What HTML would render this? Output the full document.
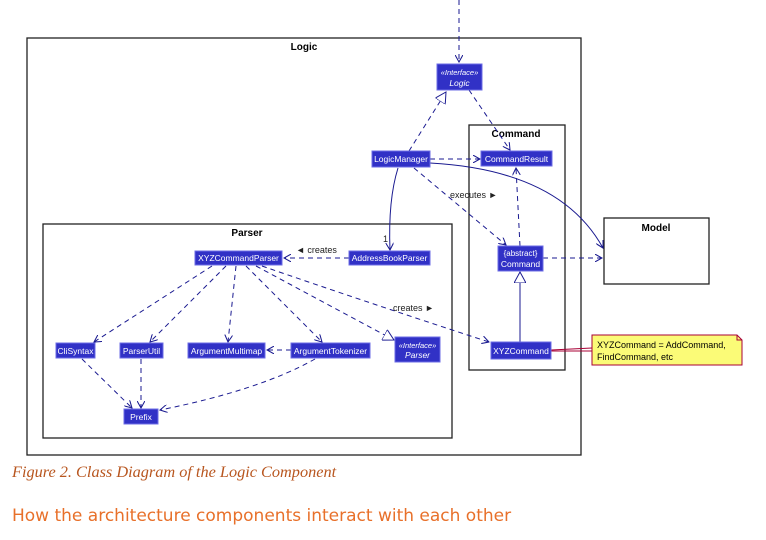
<!DOCTYPE html>
<html><head><meta charset="utf-8"><style>
html,body{margin:0;padding:0;background:#fff;width:766px;height:540px;overflow:hidden}
svg{position:absolute;left:0;top:0}
.cap{position:absolute;left:12px;top:462px;font-family:"Liberation Serif",serif;font-style:italic;font-size:16.3px;color:#b8561f;white-space:nowrap}
.h{position:absolute;left:12px;top:506px;font-family:"DejaVu Sans","Liberation Sans",sans-serif;font-size:17px;color:#e8702a;white-space:nowrap}
</style></head><body>
<svg width="766" height="540" viewBox="0 0 766 540" font-family="Liberation Sans, sans-serif">
<defs>
<marker id="a" viewBox="0 0 10 10" refX="9" refY="5" markerWidth="8" markerHeight="8" orient="auto"><path d="M0,0 L10,5 L0,10 L4,5 Z" fill="#1a1a90"/></marker>
<marker id="o" viewBox="0 0 10 10" refX="9" refY="5" markerWidth="8" markerHeight="8" orient="auto"><path d="M0,0 L9,5 L0,10" fill="none" stroke="#1a1a90" stroke-width="1.3"/></marker>
<marker id="t" viewBox="0 0 12 12" refX="11" refY="6" markerWidth="12" markerHeight="12" orient="auto" markerUnits="userSpaceOnUse"><path d="M0,0 L11,6 L0,12 Z" fill="#fff" stroke="#1a1a90"/></marker>
</defs>
<g fill="none" stroke="#222" stroke-width="1.3">
<rect x="27" y="38" width="554" height="417"/>
<rect x="469" y="125" width="96" height="245"/>
<rect x="43" y="224" width="409" height="214"/>
<rect x="604" y="218" width="105" height="66"/>
</g>
<g font-weight="bold" font-size="10" text-anchor="middle" fill="#000">
<text x="304" y="50">Logic</text><text x="516" y="137">Command</text><text x="247" y="236">Parser</text><text x="656" y="231">Model</text>
</g>
<path d="M592,335 H737 L742,340 V365 H592 Z" fill="#fbfb77" stroke="#a80036"/>
<path d="M737,335 V340 H742" fill="none" stroke="#a80036"/>
<text x="597" y="348" font-size="9">XYZCommand = AddCommand,</text>
<text x="597" y="360" font-size="9">FindCommand, etc</text>
<path d="M551,350 L592,348 M551,351 L592,351" stroke="#a80036" stroke-width="1"/>
<g stroke="#1a1a90" stroke-width="1" fill="none">
<g stroke-dasharray="5,4">
<path d="M459,0 V62" marker-end="url(#o)"/>
<path d="M409,151 L446,92" marker-end="url(#t)"/>
<path d="M469,90 L510,150" marker-end="url(#o)"/>
<path d="M430,159 L480,159" marker-end="url(#o)"/>
<path d="M414,168 L506,245" marker-end="url(#o)"/>
<path d="M520,246 L516,168" marker-end="url(#o)"/>
<path d="M543,258 L602,258" marker-end="url(#o)"/>
<path d="M349,258 L284,258" marker-end="url(#o)"/>
<path d="M212,266 L94,342" marker-end="url(#o)"/>
<path d="M226,266 L150,342" marker-end="url(#o)"/>
<path d="M236,266 L228,342" marker-end="url(#o)"/>
<path d="M246,266 L322,342" marker-end="url(#o)"/>
<path d="M256,266 L394,340" marker-end="url(#t)"/>
<path d="M262,266 Q360,300 489,342" marker-end="url(#o)"/>
<path d="M291,350 L267,350" marker-end="url(#o)"/>
<path d="M82,359 L132,408" marker-end="url(#o)"/>
<path d="M141,359 L141,408" marker-end="url(#o)"/>
<path d="M315,359 Q260,390 160,410" marker-end="url(#o)"/>
</g>
<path d="M398,168 Q388,200 390,250" marker-end="url(#o)"/>
<path d="M430,163 Q560,170 603,248" marker-end="url(#o)"/>
<path d="M520,342 L520,272" marker-end="url(#t)"/>
</g>
<g font-size="9" fill="#222">
<text x="450" y="198">executes ►</text>
<text x="296" y="253">◄ creates</text>
<text x="393" y="311">creates ►</text>
<text x="383" y="242">1</text>
</g>
<g fill="#3131c6" stroke="#6c6ce6" stroke-width="1">
<rect x="437" y="64" width="45" height="26"/>
<rect x="372" y="151" width="58" height="16"/>
<rect x="481" y="151" width="71" height="15"/>
<rect x="498" y="246" width="45" height="25"/>
<rect x="491" y="342" width="60" height="17"/>
<rect x="195" y="251" width="87" height="14"/>
<rect x="349" y="251" width="81" height="14"/>
<rect x="56" y="343" width="39" height="15"/>
<rect x="120" y="343" width="43" height="15"/>
<rect x="188" y="343" width="77" height="15"/>
<rect x="291" y="343" width="79" height="15"/>
<rect x="395" y="337" width="45" height="25"/>
<rect x="124" y="409" width="34" height="15"/>
</g>
<g fill="#fff" font-size="8.5" text-anchor="middle">
<text x="459.5" y="75" font-style="italic" font-size="7.5">«Interface»</text>
<text x="459.5" y="86" font-style="italic">Logic</text>
<text x="401" y="162">LogicManager</text>
<text x="516.5" y="162">CommandResult</text>
<text x="520.5" y="256" font-size="8">{abstract}</text>
<text x="520.5" y="267">Command</text>
<text x="521" y="354">XYZCommand</text>
<text x="238.5" y="261">XYZCommandParser</text>
<text x="389.5" y="261">AddressBookParser</text>
<text x="75.5" y="354">CliSyntax</text>
<text x="141.5" y="354">ParserUtil</text>
<text x="226.5" y="354">ArgumentMultimap</text>
<text x="330.5" y="354">ArgumentTokenizer</text>
<text x="417.5" y="348" font-style="italic" font-size="7.5">«Interface»</text>
<text x="417.5" y="358" font-style="italic">Parser</text>
<text x="141" y="420">Prefix</text>
</g>
</svg>
<div class="cap">Figure 2. Class Diagram of the Logic Component</div>
<div class="h">How the architecture components interact with each other</div>
</body></html>
